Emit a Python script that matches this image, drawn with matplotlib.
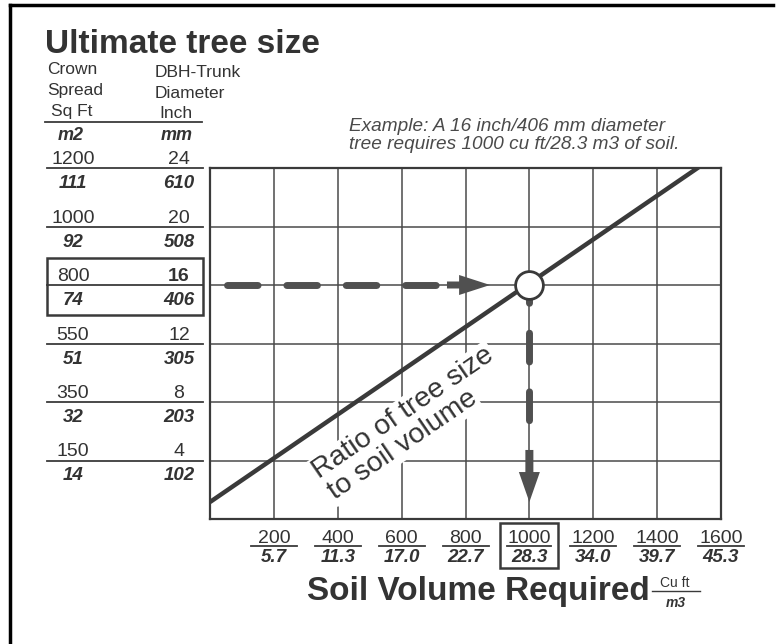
import matplotlib.pyplot as plt
from matplotlib.patches import Rectangle
from matplotlib.transforms import blended_transform_factory, IdentityTransform

# values
crown_sqft = [1200, 1000, 800, 550, 350, 150]
crown_m2 = [111, 92, 74, 51, 32, 14]
dbh_inch = [24, 20, 16, 12, 8, 4]
dbh_mm = [610, 508, 406, 305, 203, 102]
soil_cuft = [200, 400, 600, 800, 1000, 1200, 1400, 1600]
soil_m3 = ["5.7", "11.3", "17.0", "22.7", "28.3", "34.0", "39.7", "45.3"]
ratio_cuft = [0, 1540]
ratio_inch = [1.16, 24.2]
example_cuft = 1000
example_inch = 16

INK = "#3a3a3a"
GRID = "#4a4a4a"
TXT = "#333333"
ARROW = "#505050"

plt.rcParams['font.family'] = ['Liberation Sans', 'DejaVu Sans']

W, H = 778, 644
fig = plt.figure(figsize=(W / 100, H / 100), dpi=100)
# axes box in pixels: left 210, right 721, top 168, bottom 519
ax = fig.add_axes([210 / W, 1 - 519 / H, (721 - 210) / W, (519 - 168) / H])
ax.set_xlim(0, 1600)
ax.set_ylim(0, 24)
ax.set_xticks(soil_cuft[:-1])
ax.set_yticks(dbh_inch[1:])
ax.grid(True, color=GRID, lw=1.1)
ax.tick_params(length=0, labelbottom=False, labelleft=False)
for s in ax.spines.values():
    s.set_color(INK)
    s.set_linewidth(1.6)

px_x = 1600 / (721 - 210)   # cu ft per pixel
px_y = 24 / (519 - 168)     # inch per pixel

# ratio line
ax.plot(ratio_cuft, ratio_inch, color=INK, lw=3.2, solid_capstyle='butt', zorder=5)

for (tx, ty), line in zip([(606, 7.25), (603, 5.05)], ["Ratio of tree size", "to soil volume"]):
    ax.text(tx, ty, line, rotation=34.4, rotation_mode='anchor', ha='center', va='center',
            fontsize=20.5, color=TXT, zorder=4,
            bbox=dict(facecolor='white', edgecolor='none', pad=1))

# horizontal dashed arrow
ax.plot([52, 720], [example_inch, example_inch], color=ARROW, lw=5,
        dashes=(4.4, 4.15), dash_capstyle='round', zorder=5)
ax.arrow(742, example_inch, (877 - 742), 0, width=7 * px_y, head_width=20 * px_y,
         head_length=31 * px_x, length_includes_head=True, color=ARROW, lw=0, zorder=5)

# vertical dashed arrow
ax.plot([example_cuft, example_cuft], [16.72, 5.0], color=ARROW, lw=5,
        dashes=(4.15, 4.3), dash_capstyle='round', zorder=5)
ax.arrow(example_cuft, 4.72, 0, 1.16 - 4.72, width=8 * px_x, head_width=21 * px_x,
         head_length=30 * px_y, length_includes_head=True, color=ARROW, lw=0, zorder=5)

ax.plot([example_cuft], [example_inch], 'o', ms=20, mfc='white', mec=INK, mew=2, zorder=6)

# left table: x in figure pixels, y in data units
tl = blended_transform_factory(IdentityTransform(), ax.transData)
col1, col2 = 73, 179
for sq, m2, inch, mm in zip(crown_sqft, crown_m2, dbh_inch, dbh_mm):
    boxed = inch == example_inch
    if boxed:
        ax.add_patch(Rectangle((47, inch - 30 * px_y), 156, 57 * px_y, transform=tl,
                               fill=False, ec=INK, lw=1.8, clip_on=False))
    ax.plot([47, 203], [inch, inch], transform=tl, color=INK, lw=1.3, clip_on=False)
    for x, s, w in [(col1, str(sq), 'normal'), (col2, str(inch), 'bold' if boxed else 'normal')]:
        ax.annotate(s, xy=(x, inch), xycoords=tl, xytext=(0, 4), textcoords='offset pixels',
                    ha='center', va='baseline', fontsize=14, color=TXT, fontweight=w,
                    annotation_clip=False)
    for x, s in [(col1, str(m2)), (col2, str(mm))]:
        ax.annotate(s, xy=(x, inch), xycoords=tl, xytext=(0, -20), textcoords='offset pixels',
                    ha='center', va='baseline', fontsize=13.5, color=TXT, fontweight='bold',
                    fontstyle='italic', annotation_clip=False)


# header texts (figure pixels from the top)
def ftext(x, y, s, color=TXT, **kw):
    fig.text(x / W, 1 - y / H, s, color=color, va='baseline', **kw)


ftext(45, 53, "Ultimate tree size", fontsize=24, fontweight='bold')
ftext(47, 74, "Crown", fontsize=12.5)
ftext(47, 95, "Spread", fontsize=12.5)
ftext(72, 116, "Sq Ft", fontsize=12.5, ha='center')
ftext(155, 77, "DBH-Trunk", fontsize=12.5)
ftext(155, 98, "Diameter", fontsize=12.5)
ftext(176, 118, "Inch", fontsize=12.5, ha='center')
fig.add_artist(plt.Line2D([45 / W, 202 / W], [1 - 122 / H, 1 - 122 / H], color=INK, lw=1.3))
ftext(71, 140, "m2", fontsize=13, ha='center', fontweight='bold', fontstyle='italic')
ftext(177, 140, "mm", fontsize=13, ha='center', fontweight='bold', fontstyle='italic')

ftext(349, 131, "Example: A 16 inch/406 mm diameter", fontsize=13.7, fontstyle='italic', color="#4a4a4a")
ftext(349, 149, "tree requires 1000 cu ft/28.3 m3 of soil.", fontsize=13.7, fontstyle='italic', color="#4a4a4a")

# bottom labels: x in data units, y in display pixels from bottom
tb = blended_transform_factory(ax.transData, IdentityTransform())
for cu, m3 in zip(soil_cuft, soil_m3):
    boxed = cu == example_cuft
    ax.text(cu, H - 543, str(cu), transform=tb, ha='center', va='baseline',
            fontsize=14, color=TXT)
    half = 22 if boxed else 23
    ax.plot([cu - half * px_x, cu + half * px_x], [H - 546, H - 546], transform=tb,
            color=INK, lw=1.3, clip_on=False)
    ax.text(cu, H - 562, m3, transform=tb, ha='center', va='baseline', fontsize=13.5,
            color=TXT, fontweight='bold', fontstyle='italic')
    if boxed:
        ax.add_patch(Rectangle((cu - 29 * px_x, H - 568), 58 * px_x, 45, transform=tb,
                               fill=False, ec=INK, lw=1.8, clip_on=False))

ftext(307, 600, "Soil Volume Required", fontsize=24, fontweight='bold')
ftext(675, 587, "Cu ft", fontsize=10, ha='center')
fig.add_artist(plt.Line2D([652 / W, 700 / W], [1 - 591 / H, 1 - 591 / H], color=INK, lw=1))
ftext(676, 607, "m3", fontsize=10, ha='center', fontweight='bold', fontstyle='italic')

# scan frame
fig.add_artist(plt.Line2D([10 / W, 10 / W], [0, 1 - 5 / H], color='black', lw=2.5))
fig.add_artist(plt.Line2D([10 / W, 773 / W], [1 - 5 / H, 1 - 5 / H], color='black', lw=2.5))

fig.savefig("out.png", dpi=100)
